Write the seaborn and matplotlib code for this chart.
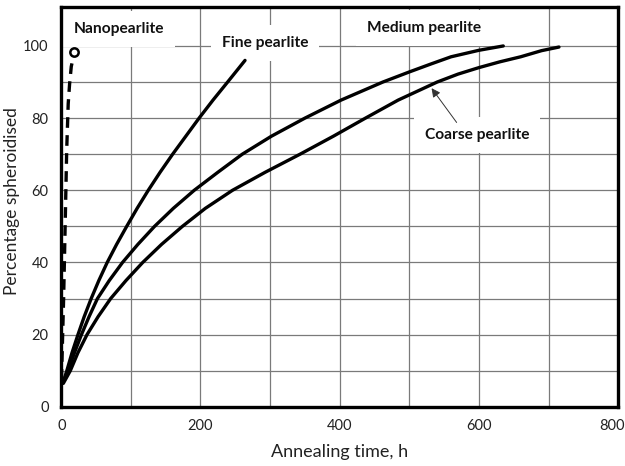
import matplotlib
matplotlib.use("Agg")

import matplotlib.pyplot as plt
import matplotlib.transforms as mtransforms
import seaborn as sns
from matplotlib.ticker import MultipleLocator

# values
fine_time = [3, 8, 15.5, 24, 33, 43, 54, 66, 79.5, 94, 109, 125, 142, 160, 179, 198, 218, 239, 264]
fine_pct = [7, 10, 15, 20, 25, 30, 35, 40, 45, 50, 55, 60, 65, 70, 75, 80, 85, 90, 96]

medium_time = [3, 10, 19, 29, 40, 52, 69, 88, 110, 134, 161, 191, 225, 260, 302, 350,
               402, 432, 462, 500, 531, 560, 600, 635]
medium_pct = [7, 10, 15, 20, 25, 30, 35, 40, 45, 50, 55, 60, 65, 70, 75, 80,
              85, 87.5, 90, 92.8, 95, 97, 98.8, 100]

coarse_time = [3, 13, 24, 37, 53, 71, 93, 117, 144, 174, 207, 246, 293, 343, 391, 437,
               484, 540, 570, 600, 630, 660, 690, 715]
coarse_pct = [6.5, 10, 15, 20, 25, 30, 35, 40, 45, 50, 55, 60, 65, 70, 75, 80,
              85, 90, 92.2, 94, 95.6, 97, 98.7, 99.7]

nano_time = [0.3, 3.4, 5.8, 7.8, 10, 12, 14.4, 19]
nano_pct = [7.5, 30, 52, 71, 84, 89.5, 94.3, 98.4]

labels = ["Nanopearlite", "Fine pearlite", "Medium pearlite", "Coarse pearlite"]
label_pos = [(83, 104.8), (293, 100.8), (521, 105), (597, 75.3)]

sns.set_style("white")
plt.rcParams["font.family"] = ["Lato", "DejaVu Sans"]

fig, ax = plt.subplots(figsize=(6.25, 4.66), dpi=100)
fig.subplots_adjust(left=0.098, right=0.989, bottom=0.127, top=0.985)

for t, p in [(fine_time, fine_pct), (medium_time, medium_pct), (coarse_time, coarse_pct)]:
    sns.lineplot(x=t, y=p, ax=ax, color="black", lw=2.4, zorder=5)

sns.lineplot(x=nano_time, y=nano_pct, ax=ax, color="black", lw=2.4,
             ls=(0, (3.2, 2.2)), marker="o", markevery=[-1], ms=6,
             mfc="white", mec="black", mew=1.8, zorder=5)

ax.set_xlim(0, 800)
ax.set_ylim(0, 110.8)
ax.set_xticks(range(0, 801, 200))
ax.xaxis.set_minor_locator(MultipleLocator(100))
ax.set_yticks(range(0, 101, 20))
ax.set_yticks(range(0, 101, 10), minor=True)
ax.set_axisbelow(True)
ax.grid(which="both", color="#7a7a7a", lw=0.9)
ax.tick_params(which="both", length=0, pad=9, labelsize=10.5, colors="#222222")

# the last x label sits a little left of the corner, as in the source
last = ax.get_xticklabels()[-1]
last.set_transform(last.get_transform() +
                   mtransforms.ScaledTranslation(-6 / 100, 0, fig.dpi_scale_trans))

for s in ax.spines.values():
    s.set_color("black")
    s.set_linewidth(2.4)
    s.set_zorder(7)

for txt, (x, y) in zip(labels, label_pos):
    ax.text(x, y, txt, ha="center", va="center", fontsize=11.2, fontweight="bold",
            color="#111111", zorder=4,
            bbox=dict(boxstyle="square,pad=0.7", fc="white", ec="none"))

ax.annotate("", xy=(532, 88.3), xytext=(568, 78.8),
            arrowprops=dict(arrowstyle="-|>", color="#333333", lw=0.7,
                            mutation_scale=13, shrinkA=0, shrinkB=0),
            zorder=6)

ax.set_xlabel("Annealing time, h", fontsize=13, color="#222222", labelpad=8)
ax.set_ylabel("Percentage spheroidised", fontsize=12.5, color="#222222")
ax.yaxis.set_label_coords(-0.074, 0.515)

fig.savefig("out.png", dpi=100)
